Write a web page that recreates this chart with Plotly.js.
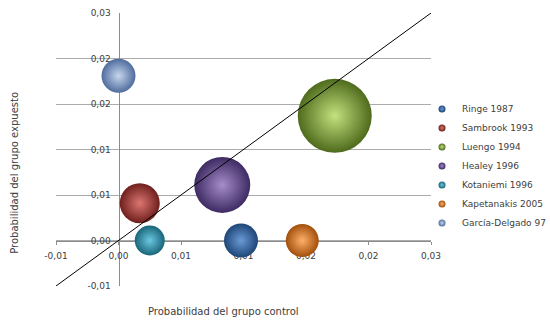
<!DOCTYPE html>
<html>
<head>
<meta charset="utf-8">
<script src="https://cdn.plot.ly/plotly-3.0.1.min.js"></script>
<style>html,body{margin:0;padding:0;background:#fff;}#chart{width:550px;height:321px;}</style>
</head>
<body>
<div id="chart"></div>
<script>
const categories = ['Ringe 1987','Sambrook 1993','Luengo 1994','Healey 1996','Kotaniemi 1996','Kapetanakis 2005','García-Delgado 97'];
const controlProb = [0.0098, 0.0017, 0.0173, 0.0083, 0.0025, 0.0147, 0.0000];
const exposedProb = [0.0000, 0.0041, 0.0137, 0.0061, 0.0000, 0.0000, 0.0181];
const bubbleSize  = [289, 400, 1369, 784, 225, 272, 289];
const refLineX = [-0.005, 0.025];
const refLineY = [-0.005, 0.025];
const tickVals = [-0.005, 0, 0.005, 0.01, 0.015, 0.02, 0.025];
const tickText = ['-0,01','0,00','0,01','0,01','0,02','0,02','0,03'];

const edgeColors   = ['#1E4677','#6E1F1C','#4E6A1C','#3E2B62','#176578','#A24F0C','#4F6C9C'];
const centerColors = ['#6A9AD6','#DC7672','#C4E27E','#A68CCC','#6CC8E2','#FFB068','#C6D6EE'];

const traces = [];
categories.forEach((name, i) => {
  traces.push({
    type: 'scatter', mode: 'markers', name: name,
    x: [controlProb[i]], y: [exposedProb[i]],
    marker: {size: [bubbleSize[i]], sizemode: 'area', sizeref: 0.5,
             color: edgeColors[i], opacity: 1, line: {width: 0},
             gradient: {type: 'radial', color: centerColors[i]}},
    showlegend: false, hoverinfo: 'x+y+name'
  });
});
categories.forEach((name, i) => {
  traces.push({
    type: 'scatter', mode: 'markers', name: name,
    x: [null], y: [null],
    marker: {size: 7, color: edgeColors[i], line: {width: 0},
             gradient: {type: 'radial', color: centerColors[i]}},
    showlegend: true
  });
});
traces.push({
  type: 'scatter', mode: 'lines', x: refLineX, y: refLineY,
  line: {color: '#000000', width: 1}, showlegend: false, hoverinfo: 'skip'
});

const tickFont = {family: 'DejaVu Sans', size: 9, color: '#404040'};
const titleFont = {family: 'DejaVu Sans', size: 10, color: '#404040'};
const layout = {
  width: 550, height: 321,
  margin: {l: 56, r: 119, t: 13, b: 35, autoexpand: false},
  paper_bgcolor: '#ffffff', plot_bgcolor: '#ffffff',
  font: {family: 'DejaVu Sans', size: 9, color: '#404040'},
  xaxis: {
    range: [-0.005, 0.025], tickvals: tickVals, ticktext: tickText,
    anchor: 'free', position: 1/6, showgrid: false, zeroline: false,
    showline: true, linecolor: '#8c8c8c', linewidth: 1,
    ticks: 'outside', ticklen: 3, tickcolor: '#8c8c8c',
    tickfont: tickFont, ticklabelstandoff: 4, layer: 'below traces'
  },
  yaxis: {
    range: [-0.005, 0.025], tickvals: tickVals, ticktext: tickText,
    anchor: 'free', position: 1/6, showgrid: true, gridcolor: '#ababab', gridwidth: 1,
    zeroline: false, showline: true, linecolor: '#8c8c8c', linewidth: 1,
    ticks: '', tickfont: tickFont, ticklabelstandoff: 6, layer: 'below traces'
  },
  legend: {x: 0.976, xanchor: 'left', y: 0.44, yanchor: 'middle',
           font: {family: 'DejaVu Sans', size: 9, color: '#404040'},
           bgcolor: 'rgba(0,0,0,0)', itemwidth: 30},
  annotations: [
    {text: 'Probabilidad del grupo control', xref: 'paper', yref: 'paper',
     x: 0.446, y: -0.095, xanchor: 'center', yanchor: 'middle', showarrow: false,
     font: titleFont},
    {text: 'Probabilidad del grupo expuesto', xref: 'paper', yref: 'paper',
     x: -0.109, y: 0.415, xanchor: 'center', yanchor: 'middle', showarrow: false, textangle: -90,
     font: titleFont}
  ],
  showlegend: true
};
Plotly.newPlot('chart', traces, layout, {displayModeBar: false, staticPlot: true});
</script>
</body>
</html>
